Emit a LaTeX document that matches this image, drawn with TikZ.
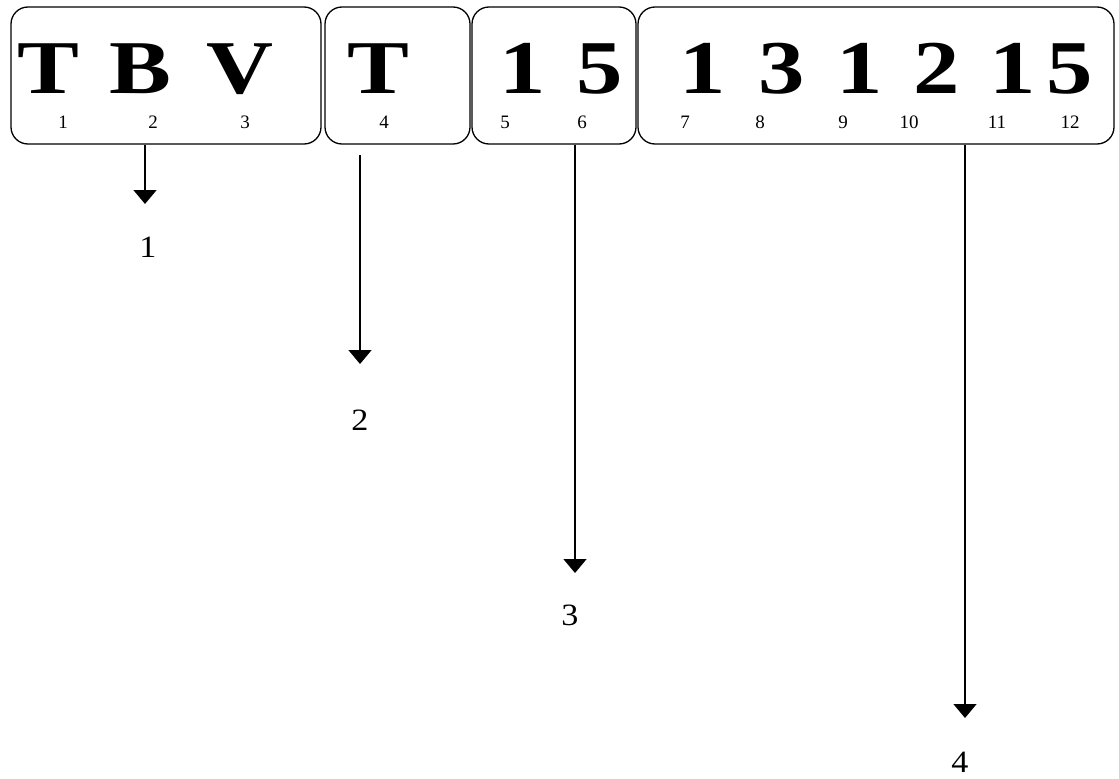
\documentclass[tikz,border=0pt]{standalone}
\usepackage{fontspec}
\setmainfont{Liberation Serif}
\usetikzlibrary{arrows.meta}
\newcommand{\wide}[1]{\scalebox{1.22}[1]{#1}}
\begin{document}
\begin{tikzpicture}[x=1pt,y=-1pt,
  seg/.style={draw,line width=1.3pt,rounded corners=17pt,minimum height=137pt,inner sep=0pt},
  big/.style={anchor=base,inner sep=0pt,font=\fontsize{76}{76}\selectfont\bfseries},
  idx/.style={anchor=base,inner sep=0pt,font=\fontsize{19}{19}\selectfont},
  lab/.style={anchor=base,inner sep=0pt,font=\fontsize{31}{31}\selectfont},
  arr/.style={line width=1.5pt,-{Triangle[width=23pt,length=14pt]}}]
\useasboundingbox (0,0) rectangle (1119,779);
\node[seg,minimum width=310pt] (b1) at (166,75.5) {};
\node[seg,minimum width=145pt] (b2) at (397.5,75.5) {};
\node[seg,minimum width=164pt] (b3) at (554,75.5) {};
\node[seg,minimum width=476pt] (b4) at (876,75.5) {};
% big letters
\node[big] (c1) at (48,93) {\wide{T}};
\node[big] (c2) at (140,93) {\wide{B}};
\node[big] (c3) at (240,93) {\wide{V}};
\node[big] (c4) at (378,93) {\wide{T}};
\node[big] (c5) at (523,93) {\wide{1}};
\node[big] (c6) at (600,93) {\wide{5}};
\node[big] (c7) at (703,93) {\wide{1}};
\node[big] (c8) at (782,93) {\wide{3}};
\node[big] (c9) at (860,93) {\wide{1}};
\node[big] (c10) at (937,93) {\wide{2}};
\node[big] (c11) at (1013,93) {\wide{1}};
\node[big] (c12) at (1070,93) {\wide{5}};
% indices
\node[idx] (i1) at (63,128) {1};
\node[idx] (i2) at (153,128) {2};
\node[idx] (i3) at (245,128) {3};
\node[idx] (i4) at (384,128) {4};
\node[idx] (i5) at (505,128) {5};
\node[idx] (i6) at (582,128) {6};
\node[idx] (i7) at (685,128) {7};
\node[idx] (i8) at (760,128) {8};
\node[idx] (i9) at (843,128) {9};
\node[idx] (i10) at (909,128) {10};
\node[idx] (i11) at (997,128) {11};
\node[idx] (i12) at (1070,128) {12};
% labels
\node[lab] (l1) at (148,257) {\scalebox{1.1}[1]{1}};
\node[lab] (l2) at (360,430) {\scalebox{1.1}[1]{2}};
\node[lab] (l3) at (570,625) {\scalebox{1.1}[1]{3}};
\node[lab] (l4) at (960,772) {\scalebox{1.1}[1]{4}};
% arrows
\coordinate (s2) at (360,155);
\coordinate (t1) at (145,204);
\coordinate (t2) at (360,364);
\coordinate (t3) at (575,573);
\coordinate (t4) at (965,718);
\draw[arr] (b1.south -| t1) -- (t1);
\draw[arr] (s2) -- (t2);
\draw[arr] (b3.south -| t3) -- (t3);
\draw[arr] (b4.south -| t4) -- (t4);
\end{tikzpicture}
\end{document}
